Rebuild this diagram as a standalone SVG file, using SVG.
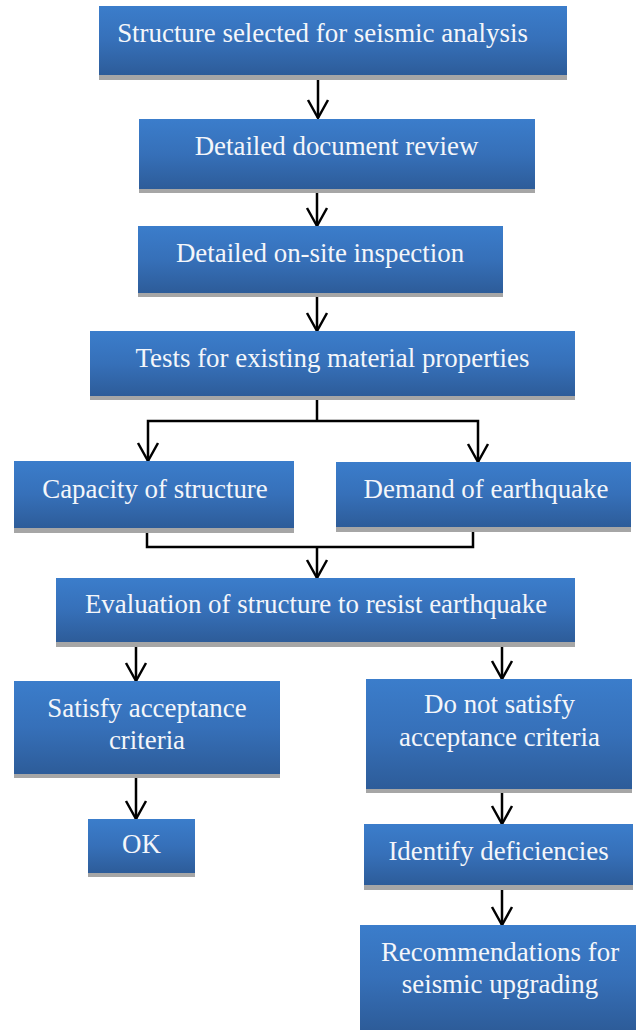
<svg xmlns="http://www.w3.org/2000/svg" width="636" height="1030" viewBox="0 0 636 1030">
<style>
.box{fill:url(#g)}
.sh{fill:#a6a6a6}
.t{font-size:26.9px;fill:#f4f6fa;text-anchor:middle}
.c{fill:none;stroke:#000;stroke-width:2.5}
.a{marker-end:url(#ah)}
</style>
<defs>
<linearGradient id="g" x1="0" y1="0" x2="0" y2="1">
<stop offset="0" stop-color="#3b7dcb"/>
<stop offset="0.5" stop-color="#3670b9"/>
<stop offset="1" stop-color="#2d5c99"/>
</linearGradient>
<marker id="ah" markerUnits="userSpaceOnUse" markerWidth="30" markerHeight="30" refX="0" refY="0" orient="auto" overflow="visible">
<path d="M-18,-10 L0,0 L-18,10" fill="none" stroke="#000" stroke-width="2.5"/>
</marker>
</defs>
<g id="connectors">
<path class="c a" d="M318,80 V118"/>
<path class="c a" d="M317,193 V226"/>
<path class="c a" d="M317,297 V331"/>
<path class="c" d="M317,400 V421"/>
<path class="c a" d="M317,421 H148 V461"/>
<path class="c a" d="M317,421 H478 V462"/>
<path class="c" d="M147,533 V547 H473 V532"/>
<path class="c a" d="M317,547 V578"/>
<path class="c a" d="M136,647 V681"/>
<path class="c a" d="M502,647 V679"/>
<path class="c a" d="M136,778 V819"/>
<path class="c a" d="M502,793 V824"/>
<path class="c a" d="M502,890 V925"/>
</g>
<g font-family="Liberation Serif, Tinos, Times New Roman, serif">
<g id="n1"><rect class="sh" x="99" y="11" width="468" height="69"/><rect class="box" x="99" y="6" width="468" height="69"/><text class="t" x="322.5" y="42">Structure selected for seismic analysis</text></g>
<g id="n2"><rect class="sh" x="139" y="123" width="396" height="70"/><rect class="box" x="139" y="119" width="396" height="70"/><text class="t" x="336.5" y="155">Detailed document review</text></g>
<g id="n3"><rect class="sh" x="138" y="230" width="365" height="67"/><rect class="box" x="138" y="226" width="365" height="67"/><text class="t" x="320" y="262">Detailed on-site inspection</text></g>
<g id="n4"><rect class="sh" x="90" y="335" width="485" height="65"/><rect class="box" x="90" y="331" width="485" height="65"/><text class="t" x="332.5" y="367">Tests for existing material properties</text></g>
<g id="n5"><rect class="sh" x="14" y="466" width="280" height="67"/><rect class="box" x="14" y="461" width="280" height="67"/><text class="t" x="155" y="498">Capacity of structure</text></g>
<g id="n6"><rect class="sh" x="336" y="467" width="295" height="65"/><rect class="box" x="336" y="462" width="295" height="65"/><text class="t" x="486" y="498">Demand of earthquake</text></g>
<g id="n7"><rect class="sh" x="56" y="583" width="519" height="64"/><rect class="box" x="56" y="578" width="519" height="64"/><text class="t" x="316" y="613">Evaluation of structure to resist earthquake</text></g>
<g id="n8"><rect class="sh" x="14" y="685" width="266" height="93"/><rect class="box" x="14" y="681" width="266" height="93"/><text class="t" x="147" y="717">Satisfy acceptance</text><text class="t" x="147" y="749">criteria</text></g>
<g id="n9"><rect class="sh" x="88" y="823" width="107" height="54"/><rect class="box" x="88" y="819" width="107" height="54"/><text class="t" x="141.5" y="853">OK</text></g>
<g id="n10"><rect class="sh" x="366" y="683" width="266" height="110"/><rect class="box" x="366" y="679" width="266" height="110"/><text class="t" x="499.5" y="713">Do not satisfy</text><text class="t" x="499.5" y="746">acceptance criteria</text></g>
<g id="n11"><rect class="sh" x="364" y="829" width="269" height="61"/><rect class="box" x="364" y="824" width="269" height="61"/><text class="t" x="498.5" y="860">Identify deficiencies</text></g>
<g id="n12"><rect class="box" x="360" y="925" width="276" height="105"/><text class="t" x="500" y="961">Recommendations for</text><text class="t" x="500" y="993">seismic upgrading</text></g>
</g>
</svg>
